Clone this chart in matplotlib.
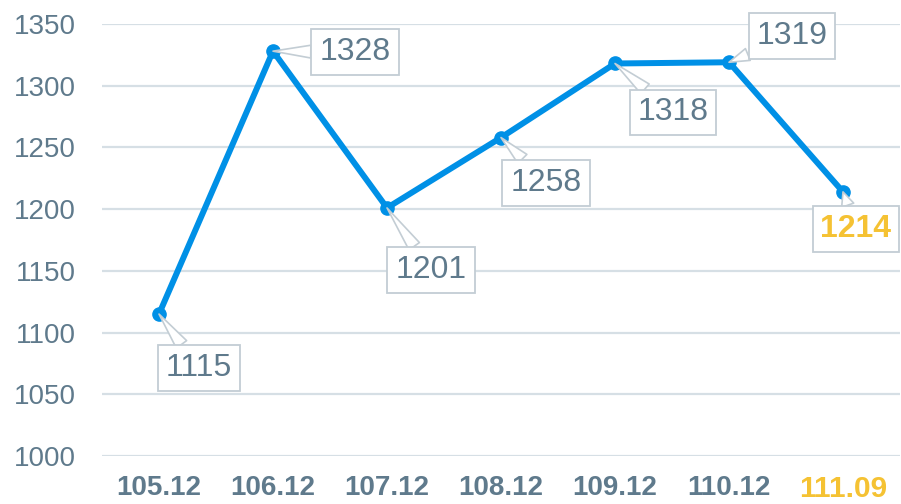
import matplotlib.pyplot as plt

plt.rcParams['font.family'] = ['Liberation Sans', 'DejaVu Sans']

periods = ['105.12', '106.12', '107.12', '108.12', '109.12', '110.12', '111.09']
values = [1115, 1328, 1201, 1258, 1318, 1319, 1214]
# label box offsets from each point, in pixels
label_offsets = [(40, -54), (82, -1), (44, -62), (45, -45), (58, -49), (63, 26), (13, -37)]

blue = '#0090e6'
grey_text = '#5f7a8c'
gold = '#f5c233'
box_edge = '#c3cdd4'

fig = plt.figure(figsize=(9.01, 5.04), dpi=100)
ax = fig.add_axes([102 / 901, 48 / 504, 798 / 901, 432 / 504])

x = list(range(len(periods)))
ax.plot(x, values, color=blue, lw=4.3, marker='o', markersize=9.5, zorder=3,
        solid_joinstyle='round', clip_on=False)

for i, (v, off) in enumerate(zip(values, label_offsets)):
    last = i == len(values) - 1
    ax.annotate(str(v), xy=(i, v), xytext=off, textcoords='offset pixels',
                ha='center', va='center', fontsize=23,
                color=gold if last else grey_text,
                fontweight='bold' if last else 'normal',
                bbox=dict(boxstyle='square,pad=0.25', fc='white', ec=box_edge, lw=1.3),
                arrowprops=dict(arrowstyle='wedge,tail_width=0.4', fc='white',
                                ec=box_edge, lw=1.2, shrinkA=0, shrinkB=0),
                zorder=4)

ax.set_xlim(-0.5, len(periods) - 0.5)
ax.set_ylim(1000, 1350)
ax.set_yticks(range(1000, 1351, 50))
ax.set_xticks(x)
ax.set_xticklabels(periods)
ax.grid(axis='y', color='#d6dfe5', lw=1.6)
ax.set_axisbelow(True)
for s in ax.spines.values():
    s.set_visible(False)
ax.tick_params(axis='both', length=0)
ax.tick_params(axis='y', labelsize=20, labelcolor=grey_text, pad=19)
ax.tick_params(axis='x', labelsize=20, labelcolor=grey_text, pad=14)
for lab in ax.get_xticklabels():
    lab.set_fontweight('bold')
last_lab = ax.get_xticklabels()[-1]
last_lab.set_color(gold)
last_lab.set_fontsize(21.5)

fig.savefig('out.png', dpi=100)
